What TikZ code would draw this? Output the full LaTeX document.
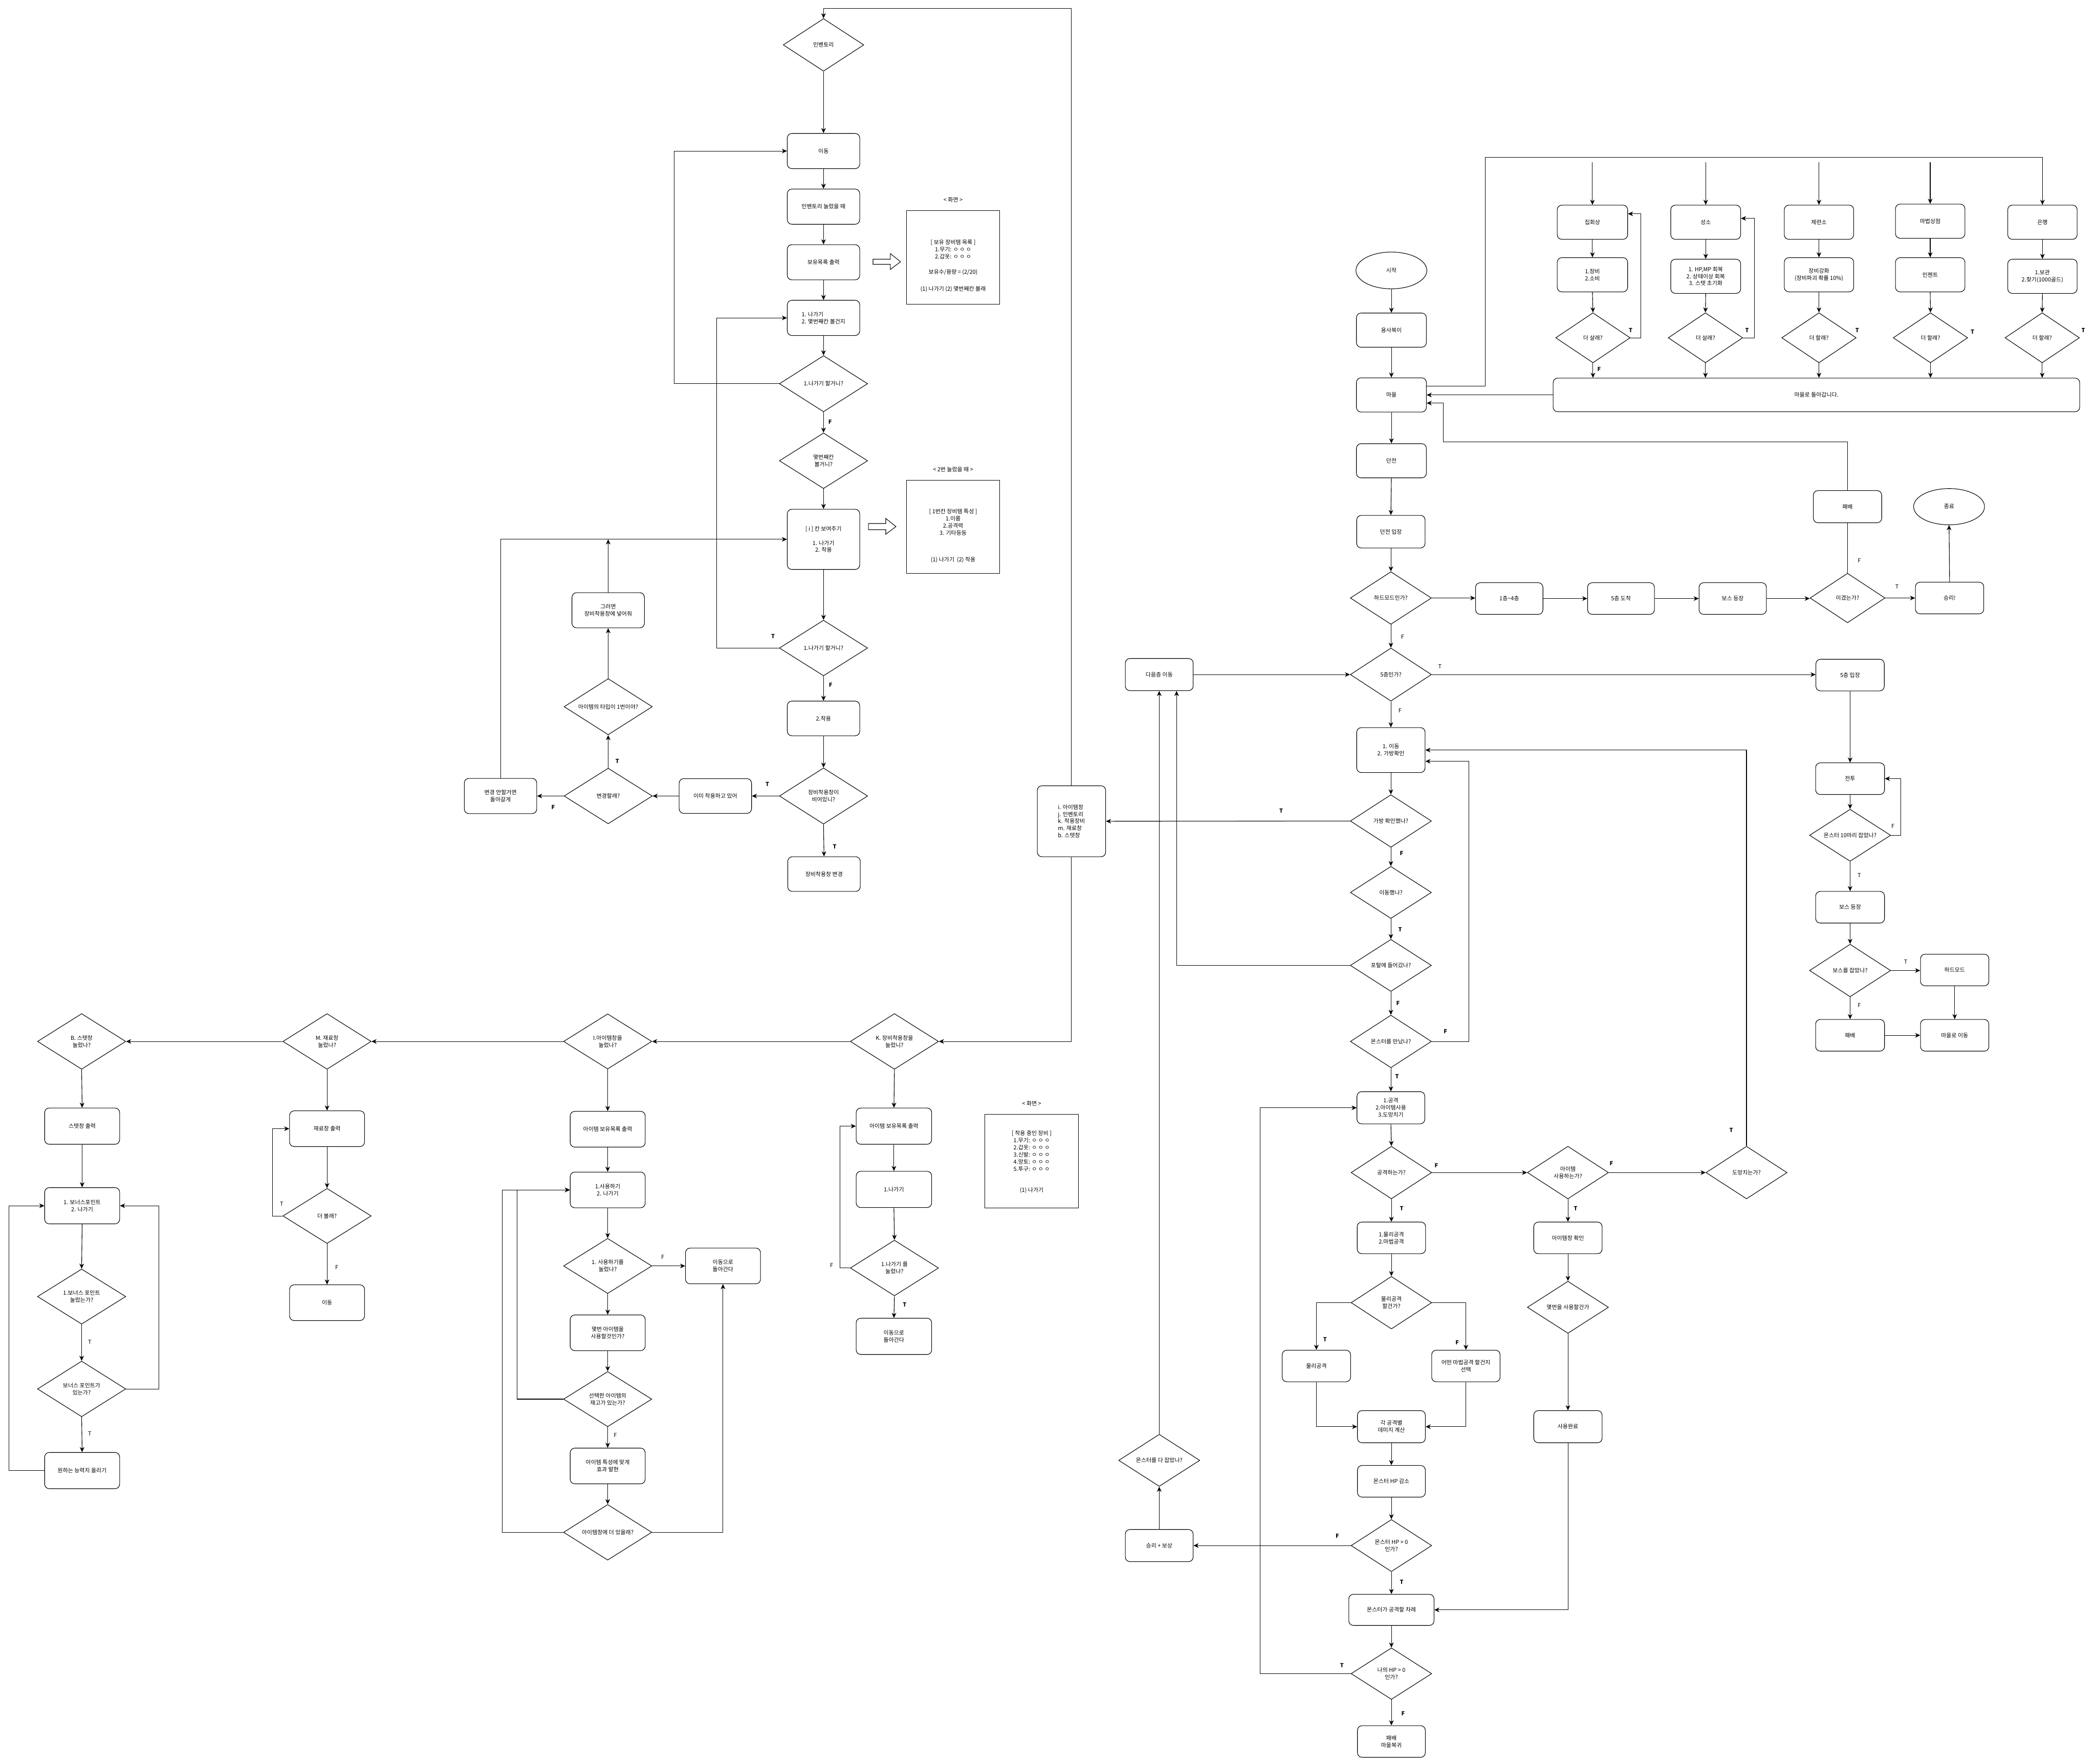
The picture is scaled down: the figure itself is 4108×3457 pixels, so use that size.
\documentclass[tikz,border=0pt]{standalone}
\usepackage{fontspec}
\setmainfont{Noto Sans CJK KR}
\usetikzlibrary{shapes.geometric,arrows.meta}
\newcommand\fs{\fontsize{11pt}{14pt}\selectfont}
\tikzset{
  ln/.style={line width=1.1pt, draw=black},
  arr/.style={ln, -{Stealth[length=10pt,width=9pt,inset=3pt]}},
  rbox/.style={ln, rectangle, rounded corners=9pt, align=center, inner sep=2pt, font=\fs},
  dia/.style={ln, diamond, inner sep=0pt},
  ell/.style={ln, ellipse, inner sep=0pt, font=\fs},
  scr/.style={ln, rectangle, inner sep=0pt},
  txt/.style={font=\fs, align=center, inner sep=0pt},
  lb/.style={font=\fs\bfseries, inner sep=0pt},
  lr/.style={font=\fs, inner sep=0pt},
  hollow/.style={ln, fill=white, line join=miter},
}
\newcommand\dnode[6]{\node[dia, minimum width=#4pt, minimum height=#5pt] (#1) at (#2,#3) {};\node[txt] (#1-t) at (#1.center) {#6};}
\newcommand\bnode[6]{\node[rbox, minimum width=#4pt, minimum height=#5pt] (#1) at (#2,#3) {#6};}
\newcommand\lab[5]{\node[#1] (#2) at (#3,#4) {#5};}
\begin{document}
\begin{tikzpicture}[x=1pt,y=-1pt]
\fill[white] (0,0) rectangle (4108,3457);
\useasboundingbox (0,0) rectangle (4108,3457);

% ================= Inventory =================
\dnode{inv}{1614}{88}{158}{103}{인벤토리}
\bnode{imove}{1614}{296}{142}{69}{이동}
\bnode{ipress}{1614}{405}{142}{69}{인벤토리 눌렀을 때}
\bnode{ilist}{1614}{514}{142}{69}{보유목록 출력}
\node[rbox, align=left, minimum width=142pt, minimum height=69pt] (imenu) at (1614,623) {1. 나가기\\2. 몇번째칸 볼건지};
\dnode{iexit1}{1614}{752}{173}{110}{1.나가기 할거니?}
\dnode{islot}{1614}{903}{173}{109}{몇번째칸\\볼거니?}
\bnode{ishow}{1614}{1057}{142}{118}{[ i ] 칸 보여주기\\[14pt]1. 나가기\\2. 착용}
\dnode{iexit2}{1614}{1270}{173}{109}{1.나가기 할거니?}
\bnode{iwear}{1614}{1408}{142}{68}{2.착용}
\dnode{iempty}{1614}{1560}{173}{110}{장비착용창이\\비어있니?}
\bnode{ichange}{1615}{1713}{142}{68}{장비착용창 변경}
\bnode{ialready}{1402}{1560}{142}{68}{이미 착용하고 있어}
\dnode{iwant}{1192}{1560}{173}{109}{변경할래?}
\dnode{itype}{1192}{1385}{173}{110}{아이템의 타입이 1번이야?}
\bnode{iput}{1192}{1196}{142}{69}{그러면\\장비착용창에 넣어줘}
\bnode{ino}{981}{1560}{142}{69}{변경 안할거면\\돌아갈게}
\coordinate (iputend) at (1192,1057);

\lab{txt}{scr1t}{1868}{392}{< 화면 >}
\node[scr, minimum width=183pt, minimum height=183pt] (scr1) at (1868,504.5) {};
\node[txt] (scr1x) at (1868,521) {[ 보유 장비템 목록 ]\\1.무기: ㅇ ㅇ ㅇ\\2.갑옷: ㅇ ㅇ ㅇ\\[16pt]보유수/용량 = (2/20)\\[19pt](1) 나가기 (2) 몇번째칸 볼래};
\lab{txt}{scr2t}{1868}{920}{< 2번 눌렀을 때 >}
\node[scr, minimum width=183pt, minimum height=183pt] (scr2) at (1868,1032.5) {};
\node[txt] (scr2x) at (1868,1050) {[ 1번칸 장비템 특성 ]\\1.이름\\2.공격력\\3. 기타등등\\[38pt](1) 나가기~~(2) 착용};
\draw[hollow] (1711,508) -- (1745,508) -- (1745,497) -- (1765,513) -- (1745,528) -- (1745,518) -- (1711,518) -- cycle;
\draw[hollow] (1702,1026) -- (1736,1026) -- (1736,1016) -- (1756,1032) -- (1736,1047) -- (1736,1038) -- (1702,1038) -- cycle;

\node[rbox, align=left, minimum width=134pt, minimum height=139pt] (menu) at (2100,1609.5) {i. 아이템창\\j. 인벤토리\\k. 착용장비\\m. 재료창\\b. 스텟창};

\draw[arr] (menu.north) |- (1614,17) -- (inv.north);
\draw[arr] (inv.south) -- (imove.north);
\draw[arr] (imove.south) -- (ipress.north);
\draw[arr] (ipress.south) -- (ilist.north);
\draw[arr] (ilist.south) -- (imenu.north);
\draw[arr] (imenu.south) -- (iexit1.north);
\draw[arr] (iexit1.west) -- (1321,752) |- (imove.west);
\draw[arr] (iexit1.south) -- (islot.north);
\lab{lb}{l1}{1627}{827}{F}
\draw[arr] (islot.south) -- (ishow.north);
\draw[arr] (ishow.south) -- (iexit2.north);
\draw[arr] (iexit2.west) -- (1405,1270) |- (imenu.west);
\lab{lb}{l2}{1515}{1247}{T}
\draw[arr] (iexit2.south) -- (iwear.north);
\lab{lb}{l3}{1628}{1342}{F}
\draw[arr] (iwear.south) -- (iempty.north);
\draw[arr] (iempty.south) -- (ichange.north);
\lab{lb}{l4}{1636}{1659}{T}
\draw[arr] (iempty.west) -- (ialready.east);
\lab{lb}{l5}{1504}{1537}{T}
\draw[arr] (ialready.west) -- (iwant.east);
\draw[arr] (iwant.north) -- (itype.south);
\lab{lb}{l6}{1210}{1492}{T}
\draw[arr] (itype.north) -- (iput.south);
\draw[arr] (iput.north) -- (iputend);
\draw[arr] (iwant.west) -- (ino.east);
\lab{lb}{l7}{1084}{1582}{F}
\draw[arr] (ino.north) |- (ishow.west);

% ================= Bottom-left menus =================
\dnode{K}{1753}{2041}{173}{109}{K. 장비착용창을\\눌렀니?}
\dnode{I}{1191}{2041}{173}{108}{I.아이템창을\\눌렀나?}
\dnode{M}{641}{2041}{173}{109}{M. 재료창\\눌렀나?}
\dnode{B}{160}{2041}{173}{109}{B. 스텟창\\눌렀나?}
\draw[arr] (menu.south) |- (K.east);
\draw[arr] (K.west) -- (I.east);
\draw[arr] (I.west) -- (M.east);
\draw[arr] (M.west) -- (B.east);

% K column
\bnode{kl}{1752}{2207}{148}{71}{아이템 보유목록 출력}
\bnode{kexit}{1752}{2331}{148}{71}{1.나가기}
\dnode{kq}{1753}{2485}{173}{109}{1.나가기 를\\눌렀나?}
\bnode{kback}{1752}{2619}{148}{71}{이동으로\\돌아간다}
\draw[arr] (K.south) -- (kl.north);
\draw[arr] (kl.south) -- (kexit.north);
\draw[arr] (kexit.south) -- (kq.north);
\draw[arr] (kq.south) -- (kback.north);
\lab{lb}{l8}{1773}{2557}{T}
\draw[arr] (kq.west) -- (1646,2485) |- (kl.west);
\lab{lr}{l9}{1630}{2480}{F}
\lab{txt}{scr3t}{2022}{2163}{< 화면 >}
\node[scr, minimum width=184pt, minimum height=183pt] (scr3) at (2022,2275.5) {};
\node[txt] (scr3x) at (2022,2277) {[ 착용 중인 장비 ]\\1.무기: ㅇ ㅇ ㅇ\\2.갑옷: ㅇ ㅇ ㅇ\\3.신발: ㅇ ㅇ ㅇ\\4.망토: ㅇ ㅇ ㅇ\\5.투구: ㅇ ㅇ ㅇ\\[27pt](1) 나가기};

% I column
\bnode{il}{1191}{2213}{147}{70}{아이템 보유목록 출력}
\bnode{imenu2}{1191}{2332}{147}{70}{1.사용하기\\2. 나가기}
\dnode{iuse}{1191}{2481}{173}{108}{1. 사용하기를\\눌렀나?}
\bnode{iback}{1417}{2481}{147}{70}{이동으로\\돌아간다}
\bnode{inum}{1191}{2612}{147}{70}{몇번 아이템을\\사용할것인가?}
\dnode{istock}{1191}{2742}{173}{108}{선택한 아이템의\\재고가 있는가?}
\bnode{ieff}{1191}{2873}{147}{70}{아이템 특성에 맞게\\효과 발현}
\dnode{imore}{1191}{3003}{173}{109}{아이템창에 더 있을래?}
\draw[arr] (I.south) -- (il.north);
\draw[arr] (il.south) -- (imenu2.north);
\draw[arr] (imenu2.south) -- (iuse.north);
\draw[arr] (iuse.east) -- (iback.west);
\lab{lr}{l10}{1299}{2464}{F}
\draw[arr] (iuse.south) -- (inum.north);
\draw[arr] (inum.south) -- (istock.north);
\draw[arr] (istock.south) -- (ieff.north);
\lab{lr}{l11}{1206}{2813}{F}
\draw[arr] (ieff.south) -- (imore.north);
\draw[arr] (istock.west) -- (1013,2742) |- (imenu2.west);
\draw[arr] (imore.west) -- (984,3003) |- (imenu2.west);
\draw[arr] (imore.east) -| (iback.south);

% M column
\bnode{mout}{641}{2212}{147}{70}{재료창 출력}
\dnode{mmore}{641}{2383}{173}{108}{더 볼래?}
\bnode{mmove}{641}{2553}{147}{70}{이동}
\draw[arr] (M.south) -- (mout.north);
\draw[arr] (mout.south) -- (mmore.north);
\draw[arr] (mmore.south) -- (mmove.north);
\lab{lr}{l12}{660}{2484}{F}
\draw[arr] (mmore.west) -- (534,2383) |- (mout.west);
\lab{lr}{l13}{552}{2359}{T}

% B column
\bnode{bout}{161}{2207}{147}{71}{스텟창 출력}
\bnode{bmenu}{161}{2363}{147}{71}{1. 보너스포인트\\2. 나가기}
\dnode{bq1}{160}{2541}{173}{108}{1.보너스 포인트\\눌렀는가?}
\dnode{bq2}{160}{2722}{173}{109}{보너스 포인트가\\있는가?}
\bnode{bup}{161}{2882}{147}{71}{원하는 능력치 올리기}
\draw[arr] (B.south) -- (bout.north);
\draw[arr] (bout.south) -- (bmenu.north);
\draw[arr] (bmenu.south) -- (bq1.north);
\draw[arr] (bq1.south) -- (bq2.north);
\lab{lr}{l14}{176}{2630}{T}
\draw[arr] (bq2.south) -- (bup.north);
\lab{lr}{l15}{176}{2810}{T}
\draw[arr] (bq2.east) -- (311,2722) |- (bmenu.east);
\draw[arr] (bup.west) -- (18,2882) |- (bmenu.west);

% ================= Main column =================
\node[ell, minimum width=139pt, minimum height=72pt] (start) at (2727,530) {시작};
\bnode{hero}{2727}{647}{137}{67}{용사복이}
\bnode{town}{2727}{774}{137}{67}{마을}
\bnode{dun}{2727}{903}{137}{67}{던전}
\bnode{dunin}{2726}{1042}{134}{64}{던전 입장}
\dnode{hard}{2726}{1172}{159}{103}{하드모드인가?}
\dnode{f5}{2726}{1322}{159}{104}{5층인가?}
\bnode{next}{2272}{1322}{133}{63}{다음층 이동}
\bnode{mv}{2726}{1470}{134}{88}{1. 이동\\2. 가방확인}
\dnode{bag}{2726}{1609}{159}{103}{가방 확인했나?}
\dnode{moved}{2726}{1749}{159}{102}{이동했나?}
\dnode{portal}{2726}{1892}{159}{102}{포탈에 들어갔나?}
\dnode{meet}{2726}{2041}{159}{103}{몬스터를 만났나?}
\bnode{act}{2726}{2171}{133}{63}{1.공격\\2.아이템사용\\3.도망치기}
\dnode{atk}{2727}{2298}{158}{103}{공격하는가?}
\dnode{useq}{3073}{2298}{159}{103}{아이템\\사용하는가?}
\dnode{runq}{3423}{2298}{159}{103}{도망치는가?}
\bnode{atk2}{2727}{2426}{134}{62}{1.물리공격\\2.마법공격}
\dnode{phys}{2727}{2553}{158}{103}{물리공격\\할건가?}
\bnode{pbox}{2580}{2677}{134}{62}{물리공격}
\bnode{mbox}{2873}{2677}{134}{62}{어떤 마법공격 할건지\\선택}
\bnode{dmg}{2727}{2796}{133}{63}{각 공격별\\데미지 계산}
\bnode{hpdown}{2727}{2903}{133}{62}{몬스터 HP 감소}
\dnode{mhp}{2727}{3029}{158}{102}{몬스터 HP > 0\\인가?}
\bnode{win}{2272}{3029}{133}{63}{승리 + 보상}
\dnode{allq}{2272}{2862}{159}{102}{몬스터를 다 잡았나?}
\bnode{mturn}{2727}{3155}{167}{61}{몬스터가 공격할 차례}
\dnode{myhp}{2727}{3280}{158}{101}{나의 HP > 0\\인가?}
\bnode{lose}{2727}{3413}{133}{62}{패배\\마을복귀}
\bnode{itemwin}{3073}{2426}{134}{62}{아이템창 확인}
\dnode{whichq}{3073}{2562}{159}{102}{몇번을 사용할건가}
\bnode{used}{3073}{2796}{134}{63}{사용완료}

\draw[arr] (start.south) -- (hero.north);
\draw[arr] (hero.south) -- (town.north);
\draw[arr] (town.south) -- (dun.north);
\draw[arr] (dun.south) -- (dunin.north);
\draw[arr] (dunin.south) -- (hard.north);
\draw[arr] (hard.south) -- (f5.north);
\lab{lr}{l16}{2749}{1248}{F}
\draw[arr] (next.east) -- (f5.west);
\draw[arr] (f5.south) -- (mv.north);
\lab{lr}{l17}{2744}{1393}{F}
\draw[arr] (mv.south) -- (bag.north);
\draw[arr] (bag.west) -- (menu.east);
\lab{lb}{l18}{2511}{1589}{T}
\draw[arr] (bag.south) -- (moved.north);
\lab{lb}{l19}{2747}{1672}{F}
\draw[arr] (moved.south) -- (portal.north);
\lab{lb}{l20}{2744}{1822}{T}
\draw[arr] (portal.south) -- (meet.north);
\lab{lb}{l21}{2740}{1966}{F}
\draw[arr] (portal.west) -| ([xshift=34pt]next.south);
\draw[arr] (meet.east) -| (2879,1492) -- ([yshift=-22pt]mv.east);
\lab{lb}{l22}{2833}{2021}{F}
\draw[arr] (meet.south) -- (act.north);
\lab{lb}{l23}{2738}{2110}{T}
\draw[arr] (act.south) -- (atk.north);
\draw[arr] (atk.east) -- (useq.west);
\lab{lb}{l24}{2815}{2284}{F}
\draw[arr] (useq.east) -- (runq.west);
\lab{lb}{l25}{3158}{2280}{F}
\draw[arr] (runq.north) |- (mv.east);
\lab{lb}{l26}{3393}{2215}{T}
\draw[arr] (atk.south) -- (atk2.north);
\lab{lb}{l27}{2747}{2368}{T}
\draw[arr] (atk2.south) -- (phys.north);
\draw[arr] (phys.west) -| (pbox.north);
\lab{lb}{l28}{2597}{2625}{T}
\draw[arr] (phys.east) -| (mbox.north);
\lab{lb}{l29}{2856}{2631}{F}
\draw[arr] (pbox.south) |- (dmg.west);
\draw[arr] (mbox.south) |- (dmg.east);
\draw[arr] (dmg.south) -- (hpdown.north);
\draw[arr] (hpdown.south) -- (mhp.north);
\draw[arr] (mhp.west) -- (win.east);
\lab{lb}{l30}{2621}{3010}{F}
\draw[arr] (mhp.south) -- (mturn.north);
\lab{lb}{l31}{2747}{3100}{T}
\draw[arr] (win.north) -- (allq.south);
\draw[arr] (allq.north) -- (next.south);
\draw[arr] (mturn.south) -- (myhp.north);
\draw[arr] (myhp.west) -| (2470,2171) -- (act.west);
\lab{lb}{l32}{2630}{3264}{T}
\draw[arr] (myhp.south) -- (lose.north);
\lab{lb}{l33}{2750}{3358}{F}
\draw[arr] (useq.south) -- (itemwin.north);
\lab{lb}{l34}{3088}{2368}{T}
\draw[arr] (itemwin.south) -- (whichq.north);
\draw[arr] (whichq.south) -- (used.north);
\draw[arr] (used.south) |- (mturn.east);

% ================= Dungeon row =================
\bnode{fl14}{2958}{1173}{132}{62}{1층\textasciitilde 4층}
\bnode{f5arr}{3177}{1173}{131}{62}{5층 도착}
\bnode{boss1}{3396}{1173}{132}{62}{보스 등장}
\dnode{wonq}{3621}{1172}{147}{97}{이겼는가?}
\bnode{victory}{3821}{1172}{134}{62}{승리!}
\node[ell, minimum width=139pt, minimum height=71pt] (endn) at (3820,993) {종료};
\bnode{lose2}{3621}{993}{134}{63}{패배}
\draw[arr] (hard.east) -- (hard.east -| fl14.west);
\draw[arr] (fl14.east) -- (f5arr.west);
\draw[arr] (f5arr.east) -- (boss1.west);
\draw[arr] (boss1.east) -- (boss1.east -| wonq.west);
\draw[arr] (wonq.east) -- (victory.west);
\lab{lr}{l35}{3718}{1150}{T}
\draw[arr] (victory.north) -- (endn.south);
\draw[ln] (wonq.north) -- (lose2.south);
\lab{lr}{l36}{3644}{1099}{F}
\draw[arr] (lose2.north) |- (2829,866) |- ([yshift=-16pt]town.east);

% 5F branch
\bnode{f5in}{3626}{1323}{134}{62}{5층 입장}
\bnode{fight}{3626}{1526}{135}{62}{전투}
\dnode{q10}{3626}{1637}{159}{102}{몬스터 10마리 잡았나?}
\bnode{boss2}{3626}{1778}{135}{62}{보스 등장}
\dnode{bossq}{3626}{1902}{159}{103}{보스를 잡았나?}
\bnode{hardm}{3831}{1901}{134}{62}{하드모드}
\bnode{lose3}{3626}{2029}{135}{62}{패배}
\bnode{totown}{3831}{2029}{134}{62}{마을로 이동}
\draw[arr] (f5.east) -- (f5.east -| f5in.west);
\lab{lr}{l37}{2822}{1306}{T}
\draw[arr] (f5in.south) -- (fight.north);
\draw[arr] (fight.south) -- (q10.north);
\draw[arr] (q10.east) -- (3725,1637) |- (fight.east);
\lab{lr}{l38}{3710}{1619}{F}
\draw[arr] (q10.south) -- (boss2.north);
\lab{lr}{l39}{3644}{1715}{T}
\draw[arr] (boss2.south) -- (bossq.north);
\draw[arr] (bossq.east) -- (bossq.east -| hardm.west);
\lab{lr}{l40}{3735}{1885}{T}
\draw[arr] (bossq.south) -- (lose3.north);
\lab{lr}{l41}{3644}{1970}{F}
\draw[arr] (hardm.south) -- (totown.north);
\draw[arr] (lose3.east) -- (totown.west);

% ================= Shops =================
\bnode{s1}{3121}{435.5}{138}{67}{집회상}
\bnode{s2}{3343}{435.5}{137}{67}{성소}
\bnode{s3}{3565}{435.5}{136}{67}{제련소}
\bnode{s4}{3783}{433.5}{136}{67}{마법상점}
\bnode{s5}{4003}{435.5}{136}{67}{은행}
\bnode{s1b}{3121}{538.5}{138}{67}{1.장비\\2.소비}
\bnode{s2b}{3343}{541.5}{137}{67}{1. HP,MP 회복\\2. 상태이상 회복\\3. 스텟 초기화}
\bnode{s3b}{3565}{538.5}{136}{67}{장비강화\\(장비파괴 확률 10\%)}
\bnode{s4b}{3783}{538.5}{136}{67}{인첸트}
\bnode{s5b}{4003}{541.5}{136}{67}{1.보관\\2.찾기(1000골드)}
\dnode{d1}{3122}{662}{146}{98}{더 살래?}
\dnode{d2}{3342.5}{662}{146}{98}{더 살래?}
\dnode{d3}{3565}{662}{146}{98}{더 할래?}
\dnode{d4}{3783.5}{662}{146}{98}{더 할래?}
\dnode{d5}{4002.5}{662}{146}{98}{더 할래?}
\bnode{ret}{3560}{774}{1032}{66}{마을로 돌아갑니다.}
\coordinate (c1) at (3121,318);
\coordinate (c2) at (3343,318);
\coordinate (c3) at (3565,318);
\coordinate (c4) at (3783,318);
\draw[arr] (c1) -- (s1.north);
\draw[arr] (c2) -- (s2.north);
\draw[arr] (c3) -- (s3.north);
\draw[arr] (c4) -- (s4.north);
\draw[arr] ([yshift=17pt]town.east) -| (2911,308) -| (s5.north);
\foreach \i in {1,...,5} {
  \draw[arr] (s\i.south) -- (s\i b.north);
  \draw[arr] (s\i b.south) -- (d\i.north);
  \draw[arr] (d\i.south) -- (d\i.south |- ret.north);
}
\draw[arr] (d1.east) -| ([xshift=25pt,yshift=16.5pt]s1.east) -- ([yshift=16.5pt]s1.east);
\draw[arr] (d2.east) -| ([xshift=26pt,yshift=7.5pt]s2.east) -- ([yshift=7.5pt]s2.east);
\draw[arr] (ret.west) -- (town.east);
\lab{lb}{l42}{3196}{647}{T}
\lab{lb}{l43}{3424}{647}{T}
\lab{lb}{l44}{3640}{647}{T}
\lab{lb}{l45}{3866}{650}{T}
\lab{lb}{l46}{4083}{647}{T}
\lab{lb}{l47}{3134}{724}{F}
\end{tikzpicture}
\end{document}
